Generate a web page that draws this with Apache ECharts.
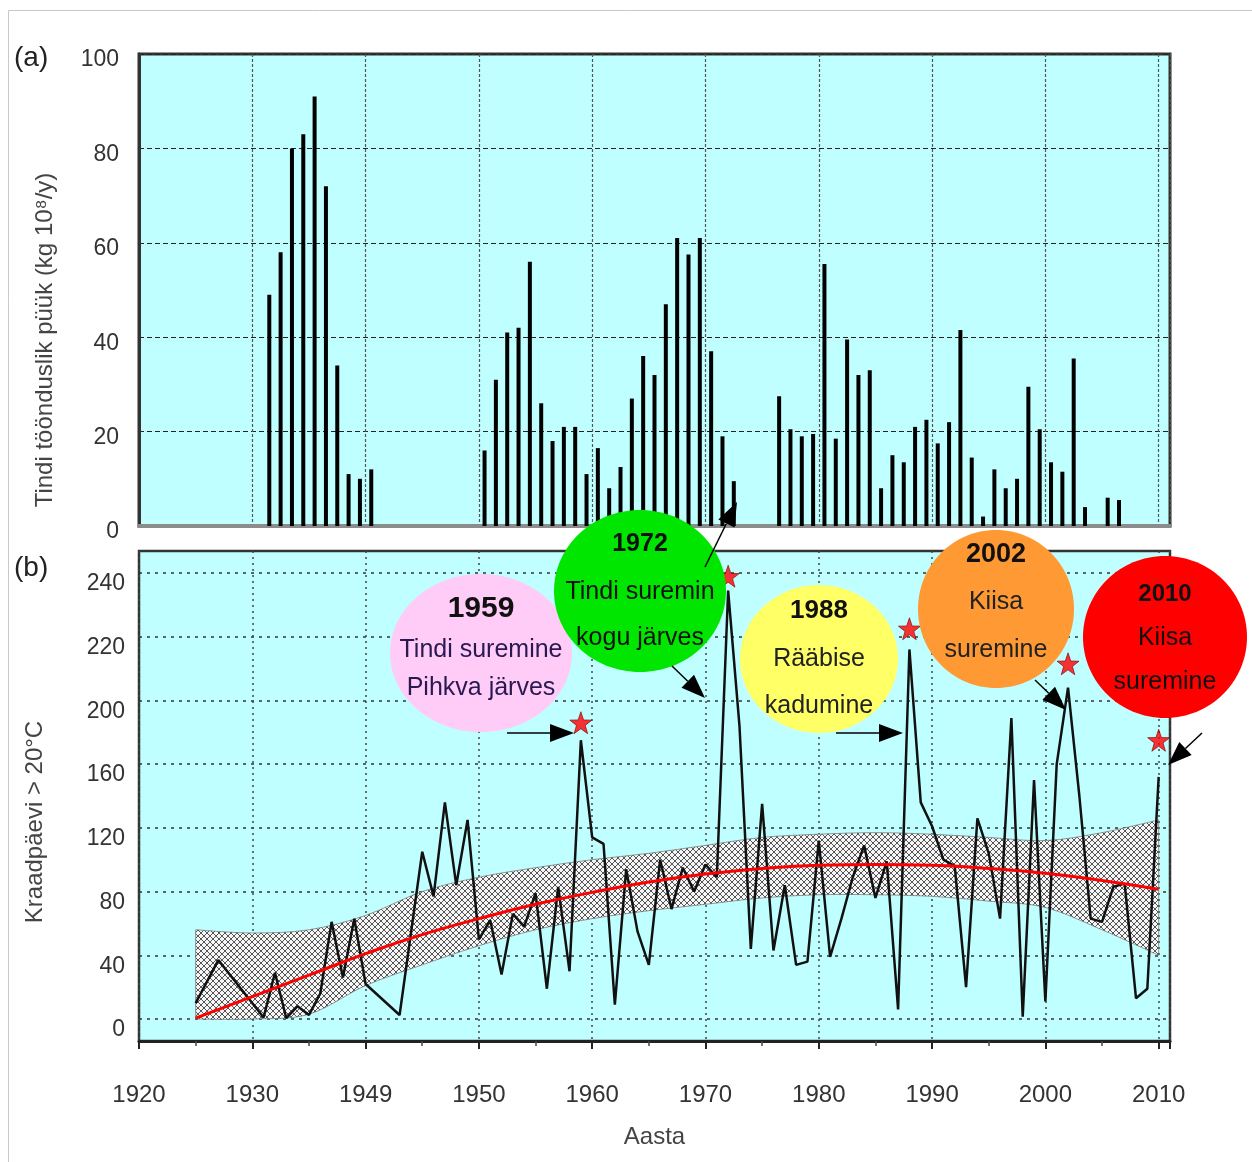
<!DOCTYPE html>
<html><head><meta charset="utf-8">
<script src="https://cdn.jsdelivr.net/npm/echarts@6/dist/echarts.min.js"></script>
<style>html,body{margin:0;padding:0;background:#fff}#c{width:1252px;height:1162px}</style>
</head><body><div id="c"></div>
<script>
// ---- Panel (a): catch bars ----
const barYears  = [1931,1932,1933,1934,1935,1936,1937,1938,1939,1940,
  1950,1951,1952,1953,1954,1955,1956,1957,1958,1959,1960,1961,1962,1963,1964,1965,1966,1967,1968,1969,1970,1971,1972,
  1976,1977,1978,1979,1980,1981,1982,1983,1984,1985,1986,1987,1988,1989,1990,1991,1992,1993,1994,1995,1996,1997,1998,1999,2000,2001,2002,2003,2005,2006];
const barValues = [49,58,80,83,91,72,34,11,10,12,
  16,31,41,42,56,26,18,21,21,11,16.5,8,12.5,27,36,32,47,61,57.5,61,37,19,9.5,
  27.5,20.5,19,19.5,55.5,18.5,39.5,32,33,8,15,13.5,21,22.5,17.5,22,41.5,14.5,2,12,8,10,29.5,20.5,13.5,11.5,35.5,4,6,5.5];

// ---- Panel (b): degree days ----
const lineYears  = [1925,1927,1931,1932,1933,1934,1935,1936,1937,1938,1939,1940,1943,1945,1946,1947,1948,1949,
  1950,1951,1952,1953,1954,1955,1956,1957,1958,1959,1960,1961,1962,1963,1964,1965,1966,1967,1968,1969,
  1970,1971,1972,1973,1974,1975,1976,1977,1978,1979,1980,1981,1982,1983,1984,1985,1986,1987,1988,1989,
  1990,1991,1992,1993,1994,1995,1996,1997,1998,1999,2000,2001,2002,2003,2004,2005,2006,2007,2008,2009,2010];
const lineValues = [10,37,1,29,0.5,8,2.5,16,61,26,63,22,2.5,105,77,136,84,125,
  50,62,28,66,58,79,19,83,30,175,114,110,9,94,55,34,100,69,95,80,
  97,89,269,184,44,135,43,84,34,36,112,39,63,89,109,76,99,6,232,136,
  121,100,96,20,126,104,63,189,1.5,150,11,160,208,140,63,61,83,85,13,19,152];

const trendYears  = [1925,1930,1935,1940,1945,1950,1955,1960,1965,1970,1975,1980,1985,1990,1995,2000,2005,2010];
const trendValues = [0.5,14,27.5,41,53,63,72,79.5,86,91,94.5,96.5,97,96.5,94.5,91.5,87,81.5];
const bandUpper   = [56,54,56,65,80,89,95,100,104,109,114,116,117,116,114,112,117,125];
const bandLower   = [0,0,3,21,34,46,56,63,68,72,76,78,78,77,74,70,56,40];

const starYears  = [1959,1972,1988,2002,2010];
const starValues = [186,278,245,223,175];

const xTickLabels = ['1920','1930','1949','1950','1960','1970','1980','1990','2000','2010'];
const bottomYTickLabels = ['0','40','80','120','160','200','220','240'];

// ---- build ----
const cats = [];
for (let y = 1920; y <= 2010; y++) cats.push(String(y));
const barData = cats.map(c => { const i = barYears.indexOf(+c); return i >= 0 ? barValues[i] : '-'; });
const pair = (xs, ys) => xs.map((x, i) => [x, ys[i]]);

const pc = document.createElement('canvas'); pc.width = 6; pc.height = 6;
const g = pc.getContext('2d');
g.fillStyle = '#f6f6f6'; g.fillRect(0, 0, 6, 6);
g.strokeStyle = '#555'; g.lineWidth = 1;
g.beginPath(); g.moveTo(0, 0); g.lineTo(6, 6); g.moveTo(6, 0); g.lineTo(0, 6); g.stroke();

// Catmull-Rom path through pixel points (rendering only)
function crPath(pts) {
  let d = '';
  for (let i = 0; i < pts.length - 1; i++) {
    const p0 = pts[i - 1] || pts[i], p1 = pts[i], p2 = pts[i + 1], p3 = pts[i + 2] || pts[i + 1];
    const c1 = [p1[0] + (p2[0] - p0[0]) / 6, p1[1] + (p2[1] - p0[1]) / 6];
    const c2 = [p2[0] - (p3[0] - p1[0]) / 6, p2[1] - (p3[1] - p1[1]) / 6];
    d += ' C' + c1[0] + ',' + c1[1] + ' ' + c2[0] + ',' + c2[1] + ' ' + p2[0] + ',' + p2[1];
  }
  return d;
}

const F = "'Liberation Sans', Arial, sans-serif";
const CY = '#c0ffff';

// annotations
const bubbles = [
  {cx: 481, cy: 653, rx: 91, ry: 79, fill: '#ffccf8', tc: '#2a1850', lines: [['1959', 609, 30, true], ['Tindi suremine', 650, 25], ['Pihkva järves', 688, 25]]},
  {cx: 640, cy: 591, rx: 86, ry: 81, fill: '#00e600', tc: '#111', lines: [['1972', 544, 25, true], ['Tindi suremin', 592, 25], ['kogu järves', 638, 25]]},
  {cx: 819, cy: 659, rx: 79, ry: 74, fill: '#ffff66', tc: '#222', lines: [['1988', 611, 26, true], ['Rääbise', 659, 25], ['kadumine', 706, 25]]},
  {cx: 996, cy: 609, rx: 78, ry: 79, fill: '#ff9933', tc: '#222', lines: [['2002', 555, 27, true], ['Kiisa', 602, 25], ['suremine', 650, 25]]},
  {cx: 1165, cy: 637, rx: 82, ry: 81, fill: '#ff0000', tc: '#111', lines: [['2010', 594, 24, true], ['Kiisa', 638, 25], ['suremine', 682, 25]]}
];
const arrows = [
  [507, 733, 574, 733],
  [705, 567, 737, 502],
  [672, 666, 705, 698],
  [836, 733, 903, 733],
  [1035, 680, 1066, 710],
  [1202, 733, 1168, 765]
];
const graphics = [
  {type: 'rect', silent: true, z: -1, shape: {x: 8.5, y: 10.5, width: 1250, height: 1160}, style: {fill: 'none', stroke: '#c8c8c8', lineWidth: 1}},
  {type: 'text', z: 100, style: {text: '(a)', x: 14, y: 58, font: '28px ' + F, fill: '#222', verticalAlign: 'middle'}},
  {type: 'text', z: 100, style: {text: '(b)', x: 14, y: 568, font: '28px ' + F, fill: '#222', verticalAlign: 'middle'}}
];
bubbles.forEach(b => {
  graphics.push({type: 'ellipse', z: 100, shape: {cx: b.cx, cy: b.cy, rx: b.rx, ry: b.ry}, style: {fill: b.fill}});
  b.lines.forEach(l => graphics.push({type: 'text', z: 101, style: {
    text: l[0], x: b.cx, y: l[1], align: 'center', verticalAlign: 'middle',
    font: (l[3] ? 'bold ' : '') + l[2] + 'px ' + F, fill: l[3] ? '#111' : b.tc}}));
});
arrows.forEach(a => {
  const [x1, y1, x2, y2] = a;
  const dx = x2 - x1, dy = y2 - y1, L = Math.hypot(dx, dy), ux = dx / L, uy = dy / L;
  const len = 24, half = 9;
  const bx = x2 - ux * len, by = y2 - uy * len;
  graphics.push({type: 'line', z: 102, shape: {x1, y1, x2: bx, y2: by}, style: {stroke: '#000', lineWidth: 1.5}});
  graphics.push({type: 'polygon', z: 102, shape: {points: [[x2, y2], [bx - uy * half, by + ux * half], [bx + uy * half, by - ux * half]]}, style: {fill: '#000'}});
});

const chart = echarts.init(document.getElementById('c'));
chart.setOption({
  animation: false,
  backgroundColor: '#fff',
  textStyle: {fontFamily: F},
  grid: [
    {left: 139, top: 54, width: 1031, height: 472, show: true, backgroundColor: CY, borderColor: '#333', borderWidth: 3},
    {left: 139, top: 551, width: 1031, height: 490, show: true, backgroundColor: CY, borderColor: '#333', borderWidth: 2.5},
    {left: 139, top: 573, width: 1031, height: 446}
  ],
  xAxis: [
    {gridIndex: 0, type: 'category', data: cats, boundaryGap: true,
      axisLine: {lineStyle: {color: '#8c8c8c', width: 4}},
      axisTick: {interval: i => i % 10 === 0, length: 5, lineStyle: {color: '#999', width: 2}},
      axisLabel: {show: false},
      splitLine: {show: true, interval: i => i % 10 === 0 && i > 0, lineStyle: {color: '#555', type: [3, 2], width: 1.2}}},
    {gridIndex: 1, type: 'value', min: 1920, max: 2011, interval: 10,
      name: 'Aasta', nameLocation: 'middle', nameGap: 84,
      nameTextStyle: {fontSize: 24, color: '#444', fontFamily: F},
      axisLine: {lineStyle: {color: '#222', width: 3}},
      axisTick: {length: 8, lineStyle: {color: '#222', width: 2}},
      minorTick: {show: true, splitNumber: 2, length: 5, lineStyle: {color: '#444', width: 1.5}},
      axisLabel: {margin: 42, fontSize: 24, color: '#333', showMaxLabel: false,
        formatter: v => { const k = (v - 1920) / 10; return Number.isInteger(k) && xTickLabels[k] ? xTickLabels[k] : ''; }},
      splitLine: {show: true, lineStyle: {color: '#444', type: [2, 4], width: 1.5}}},
    {gridIndex: 2, type: 'value', min: 1920, max: 2011, show: false}
  ],
  yAxis: [
    {gridIndex: 0, type: 'value', min: 0, max: 100, interval: 20,
      name: 'Tindi töönduslik püük (kg 10⁸/y)', nameLocation: 'middle', nameGap: 82,
      nameTextStyle: {fontSize: 24, color: '#444', padding: [0, 100, 0, 0]},
      axisLine: {show: true, lineStyle: {color: '#333', width: 3}},
      axisTick: {show: false},
      axisLabel: {fontSize: 23, color: '#333', margin: 20, verticalAlign: 'top', lineHeight: 12},
      splitLine: {lineStyle: {color: '#222', type: [5, 3], width: 1.2}}},
    {gridIndex: 1, type: 'value', min: 0, max: 1, show: false},
    {gridIndex: 2, type: 'value', min: 0, max: 280, interval: 40,
      name: 'Kraadpäevi > 20°C', nameLocation: 'middle', nameGap: 92,
      nameTextStyle: {fontSize: 24, color: '#444', padding: [0, 52, 0, 0]},
      axisLine: {show: false}, axisTick: {show: false},
      axisLabel: {fontSize: 23, color: '#333', margin: 14, verticalAlign: 'top', lineHeight: 22,
        formatter: v => bottomYTickLabels[Math.round(v / 40)]},
      splitLine: {lineStyle: {color: '#333', type: [3, 5], width: 1.5}}}
  ],
  series: [
    {type: 'bar', xAxisIndex: 0, yAxisIndex: 0, data: barData, barWidth: 4, itemStyle: {color: '#000'}},
    {type: 'custom', xAxisIndex: 2, yAxisIndex: 2, z: 1, silent: true,
      data: trendYears.map((y, i) => [y, bandLower[i], bandUpper[i]]),
      encode: {x: 0, y: [1, 2]},
      renderItem: (params, api) => {
        if (params.dataIndex !== 0) return null;
        const up = trendYears.map((y, i) => api.coord([y, bandUpper[i]]));
        const lo = trendYears.map((y, i) => api.coord([y, bandLower[i]])).reverse();
        const d = 'M' + up[0][0] + ',' + up[0][1] + crPath(up) + ' L' + lo[0][0] + ',' + lo[0][1] + crPath(lo) + ' Z';
        return {type: 'path', shape: {pathData: d},
          style: {fill: {image: pc, repeat: 'repeat'}, stroke: 'rgba(110,110,110,0.7)', lineWidth: 1}};
      }},
    {type: 'line', xAxisIndex: 2, yAxisIndex: 2, symbol: 'none', data: pair(lineYears, lineValues),
      lineStyle: {color: '#111', width: 2.5}, z: 3},
    {type: 'line', xAxisIndex: 2, yAxisIndex: 2, symbol: 'none', smooth: true, data: pair(trendYears, trendValues),
      lineStyle: {color: '#ff0000', width: 3}, z: 4},
    {type: 'scatter', xAxisIndex: 2, yAxisIndex: 2, data: pair(starYears, starValues),
      symbol: 'path://M0,-10 L2.35,-3.24 L9.51,-3.09 L3.8,1.24 L5.88,8.09 L0,4 L-5.88,8.09 L-3.8,1.24 L-9.51,-3.09 L-2.35,-3.24 Z',
      symbolSize: 22, itemStyle: {color: '#ff0000', borderColor: '#7a0000', borderWidth: 0.8}, z: 5}
  ],
  graphic: graphics
});
</script>
</body></html>
